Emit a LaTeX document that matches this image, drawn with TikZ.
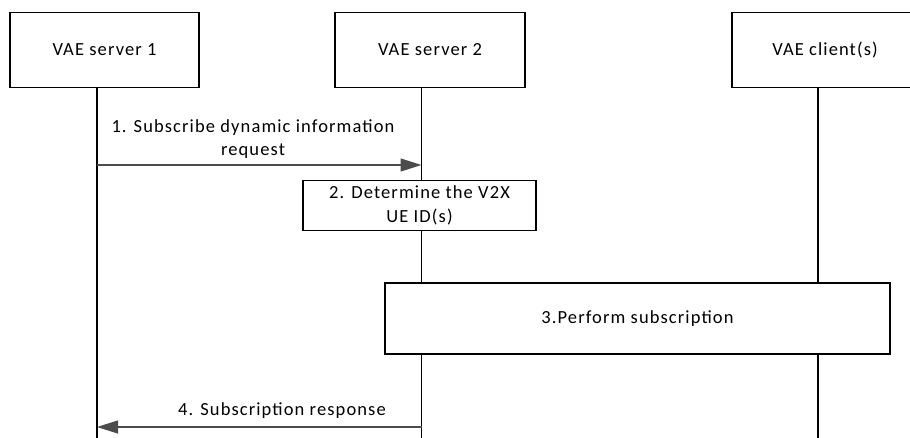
\documentclass[tikz,border=0pt]{standalone}
\usepackage{fontspec}
\setmainfont{Carlito}[LetterSpace=6]
\usetikzlibrary{arrows.meta}

\begin{document}
\begin{tikzpicture}[x=1pt, y=-1pt, >={Triangle[length=21pt,width=13pt]},
  font=\fontsize{18.5}{23.5}\selectfont,
  actor/.style={draw, line width=1.2pt, minimum width=189pt, minimum height=75pt, inner sep=0pt},
  stepbox/.style={draw, line width=1.2pt, fill=white, align=center, inner sep=0pt},
  life/.style={line width=1.2pt},
  msg/.style={->, line width=1.1pt, draw=black!70, fill=black!75}]
  \useasboundingbox (0,0) rectangle (910,437);

  \node[actor] (s1) at (104.5,50) {VAE server 1};
  \node[actor, minimum width=190pt] (s2) at (430,50) {VAE server 2};
  \node[actor, minimum width=186pt] (c) at (825,50) {VAE client(s)};

  \coordinate (e1) at (97,440);
  \coordinate (e2) at (421.5,440);
  \coordinate (e3) at (818,440);
  \draw[life] (s1.south -| e1) -- (e1);
  \draw[life] (s2.south -| e2) -- (e2);
  \draw[life] (c.south -| e3) -- (e3);

  \draw[msg] (e1 |- 0,165) -- (e2 |- 0,165);
  \node[align=center] (m1) at (253,139) {1. Subscribe dynamic information\\request};

  \node[stepbox, minimum width=233pt, minimum height=50pt] (d2) at (419.5,205.5)
    {2. Determine the V2X\\UE ID(s)};

  \node[stepbox, minimum width=505pt, minimum height=71pt] (p3) at (637.5,318.5)
    {3.Perform subscription};

  \draw[msg] (e2 |- 0,427) -- (e1 |- 0,427);
  \node (m4) at (282,411) {4. Subscription response};
\end{tikzpicture}
\end{document}
